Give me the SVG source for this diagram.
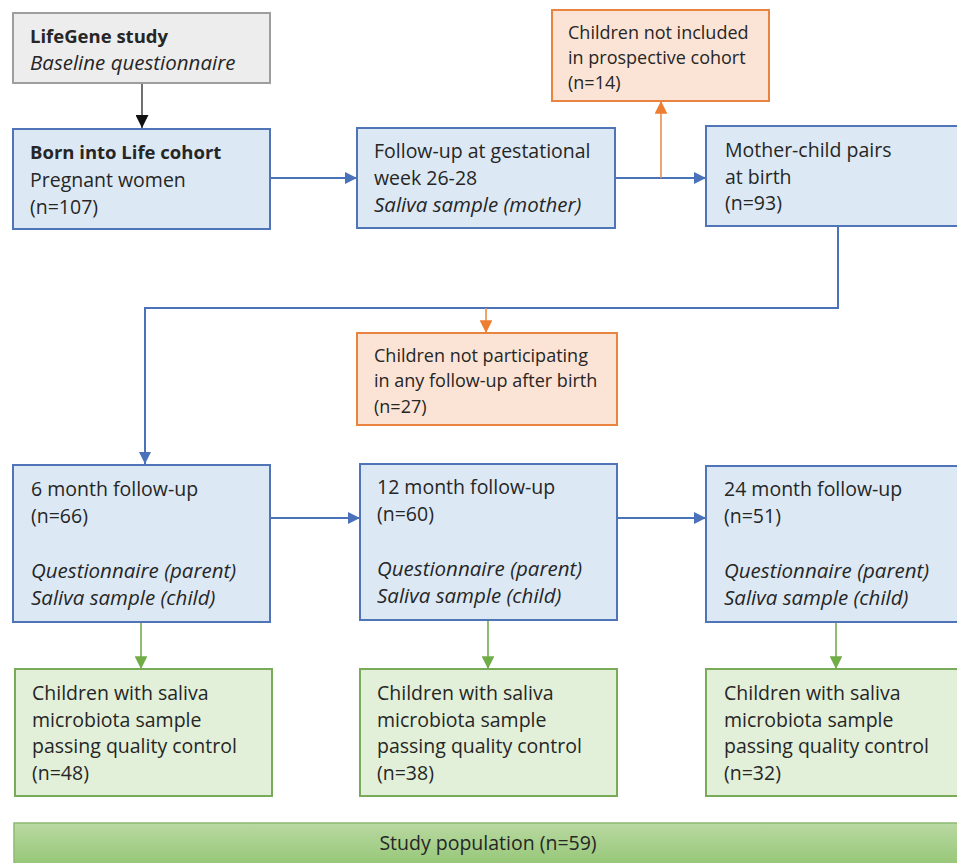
<svg xmlns="http://www.w3.org/2000/svg" width="957" height="863" viewBox="0 0 957 863">
<style>
text{font-family:"Open Sans","Liberation Sans",sans-serif;font-size:19.5px;fill:#262626}
.b{font-weight:bold;font-size:18.5px}
.i{font-style:italic;font-size:20.5px}
.s{font-size:18px}
.gray{fill:#ededed;stroke:#9e9e9e;stroke-width:2}
.blue{fill:#dce9f5;stroke:#4f74b8;stroke-width:2}
.orange{fill:#fbe4d5;stroke:#e8843f;stroke-width:2}
.green{fill:#e2efd9;stroke:#79aa57;stroke-width:2}
.cb{fill:none;stroke:#4a72bb;stroke-width:2}
.co{fill:none;stroke:#ec8d4c;stroke-width:1.6}
.cg{fill:none;stroke:#74ab4e;stroke-width:1.6}
.ck{fill:none;stroke:#222;stroke-width:1.3}
</style>
<defs>
<marker id="ab" viewBox="0 0 10 10" refX="10" refY="5" markerWidth="6" markerHeight="6" orient="auto" markerUnits="strokeWidth"><path d="M0,0L10,5L0,10z" fill="#4a72bb"/></marker>
<marker id="ao" viewBox="0 0 10 10" refX="10" refY="5" markerWidth="8" markerHeight="8" orient="auto" markerUnits="strokeWidth"><path d="M0,0L10,5L0,10z" fill="#ec7d31"/></marker>
<marker id="ag" viewBox="0 0 10 10" refX="10" refY="5" markerWidth="8" markerHeight="8" orient="auto" markerUnits="strokeWidth"><path d="M0,0L10,5L0,10z" fill="#70ad47"/></marker>
<marker id="ak" viewBox="0 0 10 10" refX="10" refY="5" markerWidth="10" markerHeight="10" orient="auto" markerUnits="strokeWidth"><path d="M0,0L10,5L0,10z" fill="#111"/></marker>
<linearGradient id="gs" x1="0" y1="0" x2="0" y2="1"><stop offset="0" stop-color="#b9d9a2"/><stop offset="1" stop-color="#8fc36f"/></linearGradient>
</defs>

<g id="connectors">
<path class="ck" d="M142,83V128" marker-end="url(#ak)"/>
<path class="cb" d="M270,178H357" marker-end="url(#ab)"/>
<path class="cb" d="M615,178H706" marker-end="url(#ab)"/>
<path class="co" d="M661,178V101" marker-end="url(#ao)"/>
<path class="cb" d="M838,226V308H145V464" marker-end="url(#ab)"/>
<path class="co" d="M486,308V333" marker-end="url(#ao)"/>
<path class="cb" d="M270,518H360" marker-end="url(#ab)"/>
<path class="cb" d="M617,518H706" marker-end="url(#ab)"/>
<path class="cg" d="M141,622V669" marker-end="url(#ag)"/>
<path class="cg" d="M488,620V669" marker-end="url(#ag)"/>
<path class="cg" d="M836,622V669" marker-end="url(#ag)"/>
</g>

<g id="lifegene">
<rect class="gray" x="13" y="13" width="257" height="70"/>
<text x="30" y="43" class="b">LifeGene study</text>
<text x="30" y="70" class="i">Baseline questionnaire</text>
</g>

<g id="born">
<rect class="blue" x="13" y="129" width="257" height="100"/>
<text x="30" y="159" class="b">Born into Life cohort</text>
<text x="30" y="187">Pregnant women</text>
<text x="30" y="214">(n=107)</text>
</g>

<g id="followup">
<rect class="blue" x="357" y="128" width="258" height="100"/>
<text x="374" y="158">Follow-up at gestational</text>
<text x="374" y="185">week 26-28</text>
<text x="374" y="212" class="i">Saliva sample (mother)</text>
</g>

<g id="notincluded">
<rect class="orange" x="552" y="10" width="217" height="91"/>
<text x="568" y="39" class="s">Children not included</text>
<text x="568" y="64" class="s">in prospective cohort</text>
<text x="568" y="89" class="s">(n=14)</text>
</g>

<g id="mother">
<rect class="blue" x="706" y="126" width="260" height="100"/>
<text x="725" y="157">Mother-child pairs</text>
<text x="725" y="184">at birth</text>
<text x="725" y="210">(n=93)</text>
</g>

<g id="notparticipating">
<rect class="orange" x="357" y="333" width="260" height="92"/>
<text x="374" y="362" class="s">Children not participating</text>
<text x="374" y="387" class="s">in any follow-up after birth</text>
<text x="374" y="413" class="s">(n=27)</text>
</g>

<g id="m6">
<rect class="blue" x="13" y="465" width="257" height="157"/>
<text x="31" y="496">6 month follow-up</text>
<text x="31" y="523">(n=66)</text>
<text x="31" y="578" class="i">Questionnaire (parent)</text>
<text x="31" y="605" class="i">Saliva sample (child)</text>
</g>

<g id="m12">
<rect class="blue" x="360" y="464" width="257" height="156"/>
<text x="377" y="494">12 month follow-up</text>
<text x="377" y="521">(n=60)</text>
<text x="377" y="576" class="i">Questionnaire (parent)</text>
<text x="377" y="603" class="i">Saliva sample (child)</text>
</g>

<g id="m24">
<rect class="blue" x="706" y="466" width="260" height="156"/>
<text x="724" y="496">24 month follow-up</text>
<text x="724" y="523">(n=51)</text>
<text x="724" y="578" class="i">Questionnaire (parent)</text>
<text x="724" y="605" class="i">Saliva sample (child)</text>
</g>

<g id="q6">
<rect class="green" x="15" y="669" width="257" height="127"/>
<text x="32" y="700">Children with saliva</text>
<text x="32" y="727">microbiota sample</text>
<text x="32" y="753">passing quality control</text>
<text x="32" y="780">(n=48)</text>
</g>

<g id="q12">
<rect class="green" x="360" y="669" width="257" height="127"/>
<text x="377" y="700">Children with saliva</text>
<text x="377" y="727">microbiota sample</text>
<text x="377" y="753">passing quality control</text>
<text x="377" y="780">(n=38)</text>
</g>

<g id="q24">
<rect class="green" x="706" y="669" width="260" height="127"/>
<text x="724" y="700">Children with saliva</text>
<text x="724" y="727">microbiota sample</text>
<text x="724" y="753">passing quality control</text>
<text x="724" y="780">(n=32)</text>
</g>

<g id="study">
<rect x="14" y="823" width="960" height="50" fill="url(#gs)" stroke="#8dbb70" stroke-width="1.5"/>
<text x="488" y="850" text-anchor="middle">Study population (n=59)</text>
</g>
</svg>
